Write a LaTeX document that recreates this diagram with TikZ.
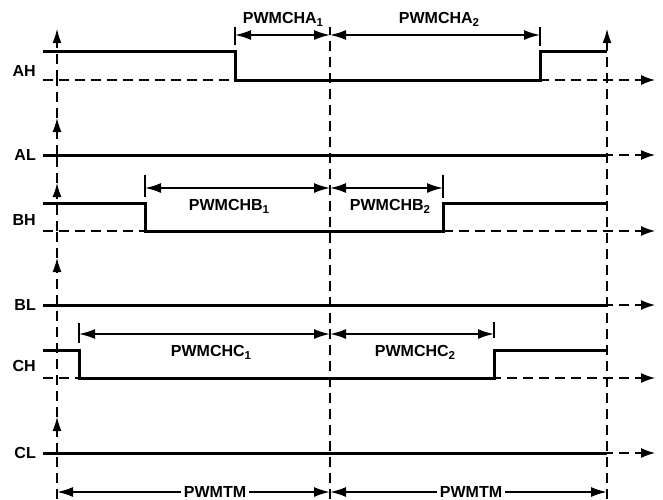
\documentclass[tikz,border=0pt]{standalone}
\usepackage{fontspec}
\setmainfont{Liberation Sans}
\usetikzlibrary{arrows.meta}

\newcommand{\lowidx}[1]{\raisebox{-3pt}{\fontsize{11.5}{12}\selectfont #1}}

\begin{document}
\begin{tikzpicture}[
    x=1pt, y=-1pt,
    >={Latex[length=16pt,width=10pt]},
    sig/.style={line width=3pt},
    axis/.style={dash pattern=on 10pt off 6pt, line width=1.3pt},
    base/.style={axis, -{Latex[length=14pt,width=10pt]}},
    uparrow/.style={axis, -{Latex[length=14pt,width=9pt]}},
    dim/.style={<->, line width=1.8pt},
    tickmark/.style={line width=1.1pt},
    lbl/.style={font=\bfseries\fontsize{16}{19}\selectfont, inner sep=1pt},
]
\useasboundingbox (0,0) rectangle (663,499);
% Time axes
\foreach \lo/\hi in {80/29,155/118,231/183,305/258,453/417}
    \draw[uparrow] (57,\lo) -- (57,\hi);
\foreach \lo/\hi in {499/453,417/305,258/231,183/155,118/80}
    \draw[axis] (57,\lo) -- (57,\hi);
\draw[axis] (330,499) -- (330,27);
\draw[uparrow] (607,499) -- (607,29);
% Baselines
\foreach \y in {80,155,231,305,378,453}
    \draw[base] (43,\y) -- (655,\y);
% Signals
\draw[sig] (43,51) -- (235,51) -- (235,80) -- (540,80) -- (540,51) -- (607,51);
\draw[sig] (43,155) -- (607,155);
\draw[sig] (43,203) -- (145,203) -- (145,231) -- (443,231) -- (443,203) -- (607,203);
\draw[sig] (43,305) -- (607,305);
\draw[sig] (43,350) -- (79,350) -- (79,378) -- (494,378) -- (494,350) -- (607,350);
\draw[sig] (43,453) -- (607,453);
% Channel names
\node[lbl,anchor=east] (AH) at (37,71) {AH};
\node[lbl,anchor=east] (AL) at (37,155) {AL};
\node[lbl,anchor=east] (BH) at (37,220) {BH};
\node[lbl,anchor=east] (BL) at (37,305) {BL};
\node[lbl,anchor=east] (CH) at (37,366) {CH};
\node[lbl,anchor=east] (CL) at (37,453) {CL};
% Duty cycle widths
\draw[tickmark] (235,27) -- (235,45);
\draw[tickmark] (540,27) -- (540,46);
\draw[dim] (235,35) -- (330,35);
\draw[dim] (330,35) -- (540,35);
\node[lbl,anchor=base] (cha1) at (283,23) {PWMCHA\lowidx{1}};
\node[lbl,anchor=base] (cha2) at (439,23) {PWMCHA\lowidx{2}};
\draw[tickmark] (145,175) -- (145,197);
\draw[tickmark] (443,175) -- (443,198);
\draw[dim] (145,188) -- (330,188);
\draw[dim] (330,188) -- (443,188);
\node[lbl,anchor=base] (chb1) at (229,210) {PWMCHB\lowidx{1}};
\node[lbl,anchor=base] (chb2) at (390,210) {PWMCHB\lowidx{2}};
\draw[tickmark] (79,323) -- (79,343);
\draw[tickmark] (494,322) -- (494,338);
\draw[dim] (79,334) -- (330,334);
\draw[dim] (330,334) -- (494,334);
\node[lbl,anchor=base] (chc1) at (211,356) {PWMCHC\lowidx{1}};
\node[lbl,anchor=base] (chc2) at (415,356) {PWMCHC\lowidx{2}};
% Period
\draw[dim] (57,492) -- (330,492);
\draw[dim] (330,492) -- (607,492);
\node[lbl,anchor=base,fill=white,inner xsep=3pt,inner ysep=0pt] (tm1) at (215,497) {PWMTM};
\node[lbl,anchor=base,fill=white,inner xsep=3pt,inner ysep=0pt] (tm2) at (471,497) {PWMTM};
\end{tikzpicture}
\end{document}
